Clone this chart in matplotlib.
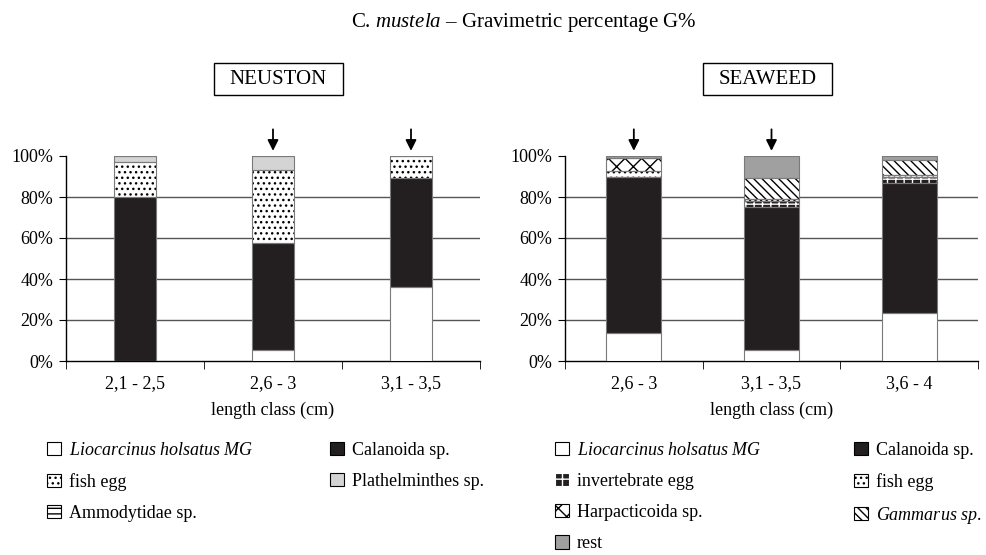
import matplotlib
matplotlib.use('Agg')
import matplotlib.pyplot as plt
import numpy as np
from matplotlib.patches import Patch, Rectangle

plt.rcParams['font.family'] = ['Liberation Serif', 'DejaVu Serif']
plt.rcParams['mathtext.fontset'] = 'custom'
plt.rcParams['mathtext.rm'] = 'Liberation Serif'
plt.rcParams['mathtext.it'] = 'Liberation Serif:italic'
plt.rcParams['hatch.linewidth'] = 1.0

# NEUSTON data (G%)
neu_classes = ['2,1 - 2,5', '2,6 - 3', '3,1 - 3,5']
neu_lio = [0.0, 5.5, 36.2]
neu_cal = [80.0, 52.1, 52.9]
neu_fish = [17.0, 35.4, 10.9]
neu_plat = [3.0, 7.0, 0.0]
neu_ammo = [0.0, 0.0, 0.0]
neu_arrows = [1, 2]

# SEAWEED data (G%)
sea_classes = ['2,6 - 3', '3,1 - 3,5', '3,6 - 4']
sea_lio = [13.6, 5.5, 23.4]
sea_cal = [76.0, 69.8, 63.3]
sea_inv = [0.0, 2.7, 2.9]
sea_fish = [2.9, 1.0, 0.9]
sea_harp = [6.5, 0.0, 0.0]
sea_gamm = [0.0, 10.4, 7.6]
sea_rest = [1.0, 10.6, 1.9]
sea_arrows = [0, 1]

# styles: (label, facecolor, hatch, hatchcolor)
LIO = ('$\\mathit{Liocarcinus\\ holsatus\\ MG}$', 'white', None, 'black')
CAL = ('Calanoida sp.', '#231f20', None, 'black')
FISH = ('fish egg', 'white', '...', 'black')
PLAT = ('Plathelminthes sp.', '#d4d4d4', None, 'black')
AMMO = ('Ammodytidae sp.', 'white', '---', 'black')
INV = ('invertebrate egg', '#231f20', '++', 'white')
HARP = ('Harpacticoida sp.', 'white', 'xx', 'black')
GAMM = ('$\\mathit{Gammarus\\ sp.}$', 'white', '\\\\\\\\', 'black')
REST = ('rest', '#a0a0a0', None, 'black')

fig = plt.figure(figsize=(9.87, 5.55), dpi=100)
W, H = 987, 555


def panel(rect, classes, series, width, arrows):
    ax = fig.add_axes(rect)
    x = np.arange(len(classes))
    bottom = np.zeros(len(classes))
    for vals, st in series:
        vals = np.array(vals)
        ax.bar(x, vals, width, bottom=bottom, color=st[1], hatch=st[2],
               edgecolor=st[3], linewidth=0, zorder=3)
        ax.bar(x, vals, width, bottom=bottom, fill=False,
               edgecolor='#7a7a7a', linewidth=0.8, zorder=4)
        bottom += vals
    ax.set_xlim(-0.5, len(classes) - 0.5)
    ax.set_ylim(0, 100)
    for y in [20, 40, 60, 80]:
        ax.axhline(y, color='#555555', linewidth=1, zorder=1)
    ax.set_yticks([0, 20, 40, 60, 80, 100])
    ax.set_yticklabels(['0%', '20%', '40%', '60%', '80%', '100%'], fontsize=13)
    ax.set_xticks(x)
    ax.set_xticklabels(classes, fontsize=13)
    ax.set_xticks(np.arange(len(classes) + 1) - 0.5, minor=True)
    ax.tick_params(axis='x', which='major', length=0, pad=10)
    ax.tick_params(axis='x', which='minor', length=6, direction='out', color='black')
    ax.tick_params(axis='y', length=5, direction='out', pad=4)
    ax.set_xlabel('length class (cm)', fontsize=13, labelpad=7)
    for s in ['top', 'right']:
        ax.spines[s].set_visible(False)
    for s in ['left', 'bottom']:
        ax.spines[s].set_color('black')
        ax.spines[s].set_linewidth(1)
    for i in arrows:
        ax.annotate('', xy=(i, 102.5), xytext=(i, 113), annotation_clip=False,
                    arrowprops=dict(arrowstyle='-|>', color='black', lw=1.3,
                                    mutation_scale=16, shrinkA=0, shrinkB=0))
    return ax


panel([66 / W, 1 - 361 / H, 414 / W, 205 / H], neu_classes,
      [(neu_lio, LIO), (neu_cal, CAL), (neu_fish, FISH), (neu_plat, PLAT), (neu_ammo, AMMO)],
      0.31, neu_arrows)
panel([565 / W, 1 - 361 / H, 413 / W, 205 / H], sea_classes,
      [(sea_lio, LIO), (sea_cal, CAL), (sea_inv, INV), (sea_fish, FISH),
       (sea_harp, HARP), (sea_gamm, GAMM), (sea_rest, REST)],
      0.40, sea_arrows)

# title
fig.text(524 / W, 1 - 22 / H, 'C. $\\mathit{mustela}$ – Gravimetric percentage G%',
         ha='center', va='center', fontsize=15)

# panel name boxes
for name, x0 in [('NEUSTON', 214), ('SEAWEED', 703)]:
    fig.add_artist(Rectangle((x0 / W, 1 - 95 / H), 129 / W, 32 / H, transform=fig.transFigure,
                             fill=False, edgecolor='black', linewidth=1))
    fig.text((x0 + 64.5) / W, 1 - 79.5 / H, name, ha='center', va='center', fontsize=15)


def handle(st):
    return Patch(facecolor=st[1], hatch=st[2], edgecolor=st[3], linewidth=0.8, label=st[0])


def legend_col(items, x, y):
    fig.legend(handles=[handle(s) for s in items], loc='upper left',
               bbox_to_anchor=(x / W, 1 - y / H), frameon=False, fontsize=13,
               handlelength=0.75, handleheight=0.75, handletextpad=0.45,
               labelspacing=0.78, borderaxespad=0, borderpad=0)


legend_col([LIO, FISH, AMMO], 47, 442)
legend_col([CAL, PLAT], 330, 442)
legend_col([LIO, INV, HARP, REST], 555, 442)
legend_col([CAL, FISH, GAMM], 854, 442)

fig.savefig('out.png', dpi=100)
